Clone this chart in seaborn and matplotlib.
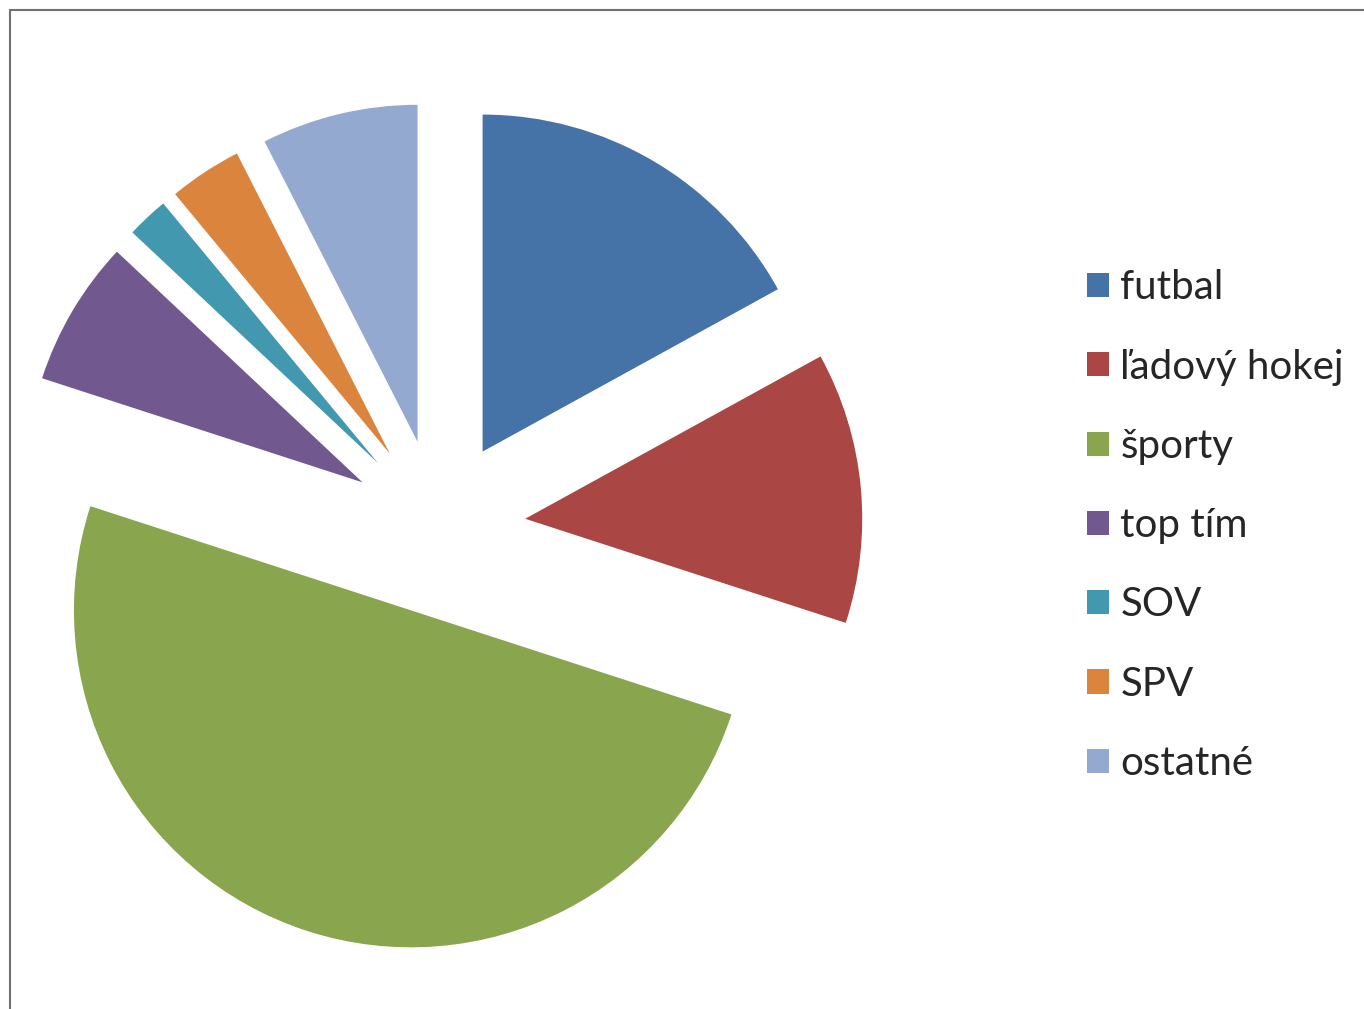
import matplotlib.pyplot as plt
import seaborn as sns
from matplotlib.lines import Line2D

labels = ['futbal', 'ľadový hokej', 'športy', 'top tím', 'SOV', 'SPV', 'ostatné']
values = [17, 13, 50, 7, 2, 3.5, 7.5]
colors = ['#4572A7', '#AA4643', '#89A54E', '#71588F', '#4198AF', '#DB843D', '#93A9CF']

sns.set_theme(style='white')
plt.rcParams['font.family'] = ['Lato', 'DejaVu Sans']

fig = plt.figure(figsize=(13.64, 10.09), dpi=100)
ax = fig.add_axes([0, 0, 1, 1])

# pie centre and radius in pixels
cx, cy, r = 438, 1009 - 527, 337
wedges, _ = ax.pie(values, colors=colors, startangle=90, counterclock=False,
                   explode=[0.26] * len(values), radius=1,
                   wedgeprops=dict(linewidth=0))
ax.set_xlim(-cx / r, (1364 - cx) / r)
ax.set_ylim(-cy / r, (1009 - cy) / r)
ax.set_aspect('auto')
ax.axis('off')

fig.legend(wedges, labels, loc='center left', bbox_to_anchor=(1087 / 1364, 0.479),
           frameon=False, fontsize=29, handlelength=0.55, handleheight=0.55,
           handletextpad=0.28, labelspacing=1.05, borderpad=0, borderaxespad=0)

# thin frame seen at top/left of the original
fig.add_artist(Line2D([10 / 1364, 1], [1 - 10 / 1009, 1 - 10 / 1009], color='#707070', lw=1.5))
fig.add_artist(Line2D([10 / 1364, 10 / 1364], [0, 1 - 10 / 1009], color='#707070', lw=1.5))

fig.savefig('out.png', dpi=100)
